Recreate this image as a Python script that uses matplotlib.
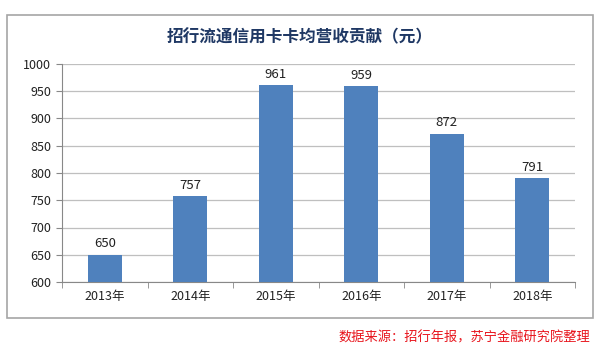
import matplotlib.pyplot as plt
from matplotlib.patches import Rectangle

plt.rcParams['font.family'] = ['Noto Sans CJK SC', 'DejaVu Sans']

years = ['2013年', '2014年', '2015年', '2016年', '2017年', '2018年']
revenue = [650, 757, 961, 959, 872, 791]
yticks = [600, 650, 700, 750, 800, 850, 900, 950, 1000]

fig = plt.figure(figsize=(6, 3.52), dpi=100)
fig.patch.set_facecolor('white')

# outer chart frame
fig.patches.append(Rectangle((7 / 600, 1 - 318 / 352), 586 / 600, 303 / 352,
                             transform=fig.transFigure, fill=False,
                             edgecolor='#A6A6A6', linewidth=1.2))

ax = fig.add_axes([62 / 600, 1 - 282 / 352, 513 / 600, 218 / 352])
x = range(len(years))
ax.bar(x, revenue, width=0.4, color='#4F81BD', zorder=3)
for i, v in enumerate(revenue):
    ax.text(i, v + 8, str(v), ha='center', va='bottom', fontsize=9.5, color='#222222')

ax.set_ylim(600, 1000)
ax.set_xlim(-0.5, len(years) - 0.5)
ax.set_yticks(yticks)
ax.set_xticks(list(x))
ax.set_xticklabels(years)
ax.tick_params(axis='both', labelsize=9, colors='#222222', length=0, pad=6)

# minor ticks on category boundaries
ax.set_xticks([i - 0.5 for i in range(len(years) + 1)], minor=True)
ax.tick_params(axis='x', which='minor', length=4, color='#888888')
ax.tick_params(axis='y', length=4, color='#888888', pad=4)
ax.tick_params(axis='x', which='major', length=0)

ax.grid(axis='y', color='#BFBFBF', linewidth=0.9, zorder=0)
for s in ['top', 'right']:
    ax.spines[s].set_visible(False)
ax.spines['left'].set_color('#888888')
ax.spines['bottom'].set_color('#888888')

fig.text(0.5, 1 - 37 / 352, '招行流通信用卡卡均营收贡献（元）', ha='center', va='center',
         fontsize=12, fontweight='bold', color='#1F3864')
fig.text(590 / 600, 1 - 338 / 352, '数据来源：招行年报，苏宁金融研究院整理', ha='right', va='center',
         fontsize=9.5, color='#E8141C', style='italic')

fig.savefig('out.png', dpi=100)
